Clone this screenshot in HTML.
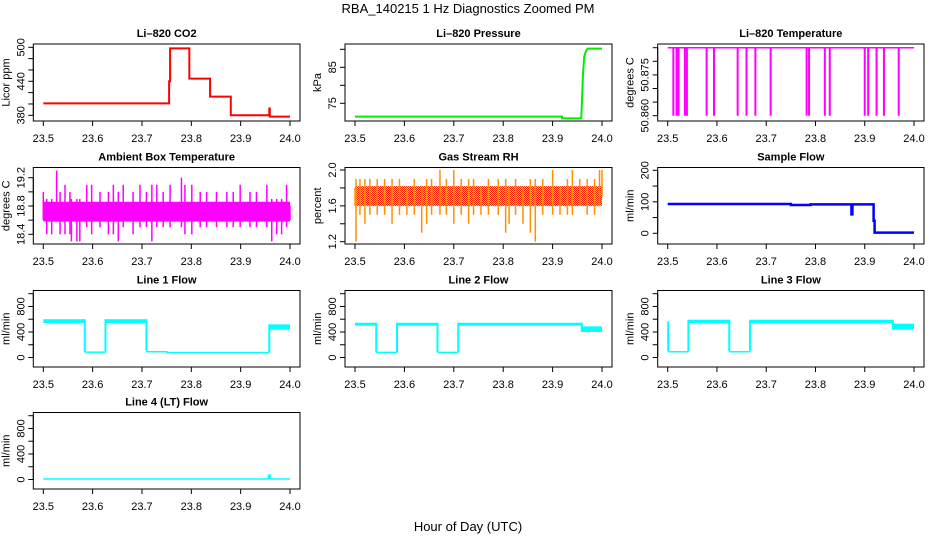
<!DOCTYPE html>
<html><head><meta charset="utf-8"><style>
html,body{margin:0;padding:0;background:#fff;}
svg{display:block;font-family:"Liberation Sans",Arial,sans-serif;}
</style></head><body>
<svg id="chart" width="936" height="540" viewBox="0 0 936 540" xmlns="http://www.w3.org/2000/svg">
<defs>
<pattern id="rhpat" width="2" height="2" patternUnits="userSpaceOnUse">
<rect width="2" height="2" fill="#ffd000"/><rect width="1" height="1" fill="#ff2000"/><rect x="1" y="1" width="1" height="1" fill="#ff2000"/>
</pattern>
</defs>
<rect width="936" height="540" fill="#fff"/>
<text x="468" y="13" font-size="13" text-anchor="middle">RBA_140215  1 Hz Diagnostics Zoomed PM</text>
<text x="468" y="531" font-size="13" text-anchor="middle">Hour of Day (UTC)</text>
</svg>
<script>
// ---- data ----
const xTicks=[23.5,23.6,23.7,23.8,23.9,24.0];
const xTickLabels=['23.5','23.6','23.7','23.8','23.9','24.0'];

const co2Times=[23.5,23.755,23.757,23.796,23.838,23.880,23.958,23.959];
const co2Vals=[401,440,498,444.7,413,380,392,377.6];

const presTimes=[23.5,23.919,23.919,23.958,23.9595,23.9615,23.964,23.9676,23.971,24.0];
const presVals=[71.3,71.3,70.8,70.8,76,83,88,89.5,90.2,90.2];

const tempBase=50.885;
const tempDropTo=50.860;
const tempDropTimes=[23.5115,23.518,23.522,23.535,23.539,23.579,23.594,23.642,23.660,23.678,23.709,23.782,23.787,23.819,23.829,23.900,23.907,23.924,23.939,23.969];

const ambCoreLo=18.58, ambCoreHi=18.86;
const ambTimes=[23.500,23.507,23.517,23.527,23.534,23.544,23.554,23.557,23.568,23.574,23.588,23.598,23.615,23.632,23.642,23.652,23.662,23.682,23.696,23.709,23.720,23.730,23.743,23.757,23.780,23.787,23.801,23.818,23.831,23.851,23.872,23.885,23.899,23.919,23.932,23.953,23.963,23.973,23.983,23.993,24.000];
const ambLo=[18.6,18.4,18.4,18.6,18.4,18.4,18.4,18.3,18.3,18.3,18.5,18.4,18.5,18.4,18.4,18.3,18.5,18.4,18.5,18.5,18.3,18.5,18.5,18.5,18.5,18.4,18.4,18.5,18.5,18.5,18.5,18.5,18.5,18.5,18.5,18.5,18.3,18.4,18.4,18.5,18.6];
const ambHi=[19.0,18.9,18.9,19.3,19.0,19.1,19.0,18.9,18.9,18.9,19.1,19.1,19.0,19.0,19.1,19.0,19.1,19.0,19.1,19.0,19.1,19.1,19.0,19.1,19.2,19.1,19.1,19.0,19.0,19.0,19.0,19.0,19.1,19.0,19.0,19.1,18.9,18.9,18.9,19.1,18.8];

const rhCoreLo=1.6, rhCoreHi=1.82;
const rhTimes=[23.500,23.502,23.510,23.520,23.530,23.545,23.560,23.575,23.590,23.605,23.620,23.635,23.645,23.655,23.672,23.685,23.700,23.715,23.730,23.740,23.755,23.770,23.790,23.805,23.812,23.825,23.840,23.855,23.865,23.880,23.900,23.915,23.930,23.940,23.955,23.970,23.985,23.995,24.000];
const rhLo=[1.6,1.2,1.5,1.4,1.5,1.5,1.5,1.4,1.5,1.5,1.5,1.3,1.4,1.5,1.5,1.5,1.4,1.5,1.4,1.5,1.5,1.5,1.5,1.3,1.4,1.5,1.4,1.3,1.2,1.5,1.5,1.5,1.5,1.5,1.6,1.5,1.5,1.6,1.7];
const rhHi=[1.8,1.9,1.9,1.9,1.9,1.9,1.9,1.9,1.9,1.8,1.9,1.8,1.9,1.9,2.0,1.9,2.0,1.9,1.9,1.9,1.8,1.9,1.9,1.9,1.8,1.9,1.8,1.9,1.9,1.9,2.0,1.8,1.9,2.0,1.9,1.9,1.9,2.0,2.0];

const sfTimes=[23.5,23.75,23.79,23.873,23.875,23.918,23.92];
const sfVals=[93,90,92,60,92,40,2];

const l1Start=[23.5,23.584,23.626,23.709,23.75,23.958];
const l1End=[23.584,23.626,23.709,23.75,23.958,24.0];
const l1Lo=[540,88,540,95,78,436];
const l1Hi=[600,95,600,102,88,519];

const l2Start=[23.5,23.543,23.585,23.667,23.709,23.959];
const l2End=[23.543,23.585,23.667,23.709,23.959,24.0];
const l2Lo=[499,82,499,82,499,400];
const l2Hi=[545,92,545,92,545,488];

const l3Start=[23.5,23.501,23.542,23.625,23.667,23.957];
const l3End=[23.501,23.542,23.625,23.667,23.957,24.0];
const l3Lo=[99,95,540,95,540,436];
const l3Hi=[566,102,592,102,592,530];

const l4Start=[23.5,23.957,23.959];
const l4End=[23.957,23.959,24.0];
const l4Lo=[0,0,0];
const l4Hi=[20,80,20];

// ---- layout ----
const NS='http://www.w3.org/2000/svg';
const svg=document.getElementById('chart');
const colX=[[43.3,290],[355,602],[667.7,914]];
const rowY=[[44,121],[167.5,244],[290.5,367],[412.5,489]];

function mk(tag,attrs,parent){const e=document.createElementNS(NS,tag);for(const k in attrs)e.setAttribute(k,attrs[k]);(parent||svg).appendChild(e);return e;}

function panel(col,row,name,title,ylab,vA,oA,vB,oB,yticks,ylabels){
  const g=mk('g',{});
  
  
  const xa=colX[col][0],xb=colX[col][1];
  const x0=xa-10,x1=xb+10,y0=rowY[row][0],y1=rowY[row][1];
  const x=t=>xa+(t-23.5)/0.5*(xb-xa);
  const pA=y0+oA,pB=y0+oB;
  const y=v=>pA+(v-vA)/(vB-vA)*(pB-pA);
  const t=mk('text',{x:(x0+x1)/2,y:y0-7,'font-size':11,'font-weight':'bold','text-anchor':'middle'},g);
  t.textContent=title;
  
  
  const box=mk('rect',{x:x0,y:y0,width:x1-x0,height:y1-y0,fill:'none',stroke:'#000','stroke-width':1},g);
  
  
  const xg=mk('g',{},g);
  
  
  mk('line',{x1:x(xTicks[0]),x2:x(xTicks[xTicks.length-1]),y1:y1,y2:y1,stroke:'#000'},xg);
  xTicks.forEach((tv,i)=>{
    mk('line',{x1:x(tv),x2:x(tv),y1:y1,y2:y1+5,stroke:'#000'},xg);
    const l=mk('text',{x:x(tv),y:y1+21,'font-size':11,'text-anchor':'middle'},xg);
    l.textContent=xTickLabels[i];
    
    
  });
  const yg=mk('g',{},g);
  
  
  mk('line',{x1:x0,x2:x0,y1:y(yticks[0]),y2:y(yticks[yticks.length-1]),stroke:'#000'},yg);
  yticks.forEach((tv,i)=>{
    mk('line',{x1:x0-5,x2:x0,y1:y(tv),y2:y(tv),stroke:'#000'},yg);
    if(ylabels[i]){
      const l=mk('text',{x:0,y:0,'font-size':11,'text-anchor':'middle',transform:`translate(${x0-9},${y(tv)}) rotate(-90)`},yg);
      l.textContent=ylabels[i];
      
      
    }
  });
  const yl=mk('text',{x:0,y:0,'font-size':11,'text-anchor':'middle',transform:`translate(${x0-24},${(y0+y1)/2}) rotate(-90)`},g);
  yl.textContent=ylab;
  
  
  const dg=mk('g',{},g);
  
  
  return {x,y,g:dg};
}

function stepLine(p,times,vals,end,color,w){
  let d=`M${p.x(times[0])},${p.y(vals[0])}`;
  for(let i=0;i<times.length;i++){
    const tn=i+1<times.length?times[i+1]:end;
    d+=`H${p.x(tn)}`;
    if(i+1<times.length)d+=`V${p.y(vals[i+1])}`;
  }
  const e=mk('path',{d,fill:'none',stroke:color,'stroke-width':w},p.g);
  
  
}
function polyLine(p,times,vals,color,w){
  const pts=times.map((t,i)=>p.x(t)+','+p.y(vals[i])).join(' ');
  const e=mk('polyline',{points:pts,fill:'none',stroke:color,'stroke-width':w},p.g);
  
  
}
function spikes(p,times,lo,hi,color,w){
  times.forEach((t,i)=>{
    const e=mk('line',{x1:p.x(t),x2:p.x(t),y1:p.y(lo[i]),y2:p.y(hi[i]),stroke:color,'stroke-width':w},p.g);
    
    
  });
}
function band(p,t0,t1,lo,hi,fill){
  const ya=p.y(hi),yb=p.y(lo);
  const e=mk('rect',{x:p.x(t0),y:Math.min(ya,yb),width:p.x(t1)-p.x(t0),height:Math.max(1.5,Math.abs(yb-ya)),fill},p.g);
  
  
}
function segBands(p,st,en,lo,hi,color){
  st.forEach((s,i)=>{
    band(p,s,en[i],lo[i],hi[i],color);
    if(i>0){
      const a=Math.min(lo[i],lo[i-1]),b=Math.max(hi[i],hi[i-1]);
      const e=mk('line',{x1:p.x(s),x2:p.x(s),y1:p.y(a),y2:p.y(b),stroke:color,'stroke-width':2},p.g);
      
      
    }
  });
}

// CO2
const pCO2=panel(0,0,'co2','Li\u2013820 CO2','Licor ppm',500,3.3,380,71.3,[380,400,420,440,460,480,500],['380','','','440','','','500']);
stepLine(pCO2,co2Times,co2Vals,24.0,'#ff0000',2);
// Pressure
const pPr=panel(1,0,'pressure','Li\u2013820 Pressure','kPa',90,5.3,75,59.3,[75,80,85,90],['75','','85','']);
polyLine(pPr,presTimes,presVals,'#00ee00',2);
// Temperature
const pT=panel(2,0,'li820-temperature','Li\u2013820 Temperature','degrees C',50.885,3.7,50.860,71.7,[50.860,50.865,50.870,50.875,50.880,50.885],['50.860','','','50.875','','']);
polyLine(pT,[23.5,24.0],[tempBase,tempBase],'#ff00ff',1.5);
spikes(pT,tempDropTimes,tempDropTimes.map(()=>tempDropTo),tempDropTimes.map(()=>tempBase),'#ff00ff',2);
// Ambient
const pA=panel(0,1,'ambient-temp','Ambient Box Temperature','degrees C',19.2,10.2,18.4,66.8,[18.4,18.6,18.8,19.0,19.2],['18.4','','18.8','','19.2']);
band(pA,23.5,24.0,ambCoreLo,ambCoreHi,'#ff00ff');
spikes(pA,ambTimes,ambLo,ambHi,'#ff00ff',1.5);
// RH
const pRH=panel(1,1,'gas-stream-rh','Gas Stream RH','percent',2.0,2.5,1.2,74.2,[1.2,1.4,1.6,1.8,2.0],['1.2','','1.6','','2.0']);
band(pRH,23.5,24.0,rhCoreLo,rhCoreHi,'url(#rhpat)');
spikes(pRH,rhTimes,rhLo,rhHi,'#ff9000',1.5);
// Sample flow
const pSF=panel(2,1,'sample-flow','Sample Flow','ml/min',200,2.8,0,65.8,[0,50,100,150,200],['0','','100','','200']);
stepLine(pSF,sfTimes,sfVals,24.0,'#0000ff',2.5);
// Line flows
const flowTicks=[0,200,400,600,800,1000], flowLabels=['0','','400','','800',''];
const p1=panel(0,2,'line1-flow','Line 1 Flow','ml/min',1000,3.2,0,67,flowTicks,flowLabels);
segBands(p1,l1Start,l1End,l1Lo,l1Hi,'#00ffff');
const p2=panel(1,2,'line2-flow','Line 2 Flow','ml/min',1000,3.2,0,67,flowTicks,flowLabels);
segBands(p2,l2Start,l2End,l2Lo,l2Hi,'#00ffff');
const p3=panel(2,2,'line3-flow','Line 3 Flow','ml/min',1000,3.2,0,67,flowTicks,flowLabels);
segBands(p3,l3Start,l3End,l3Lo,l3Hi,'#00ffff');
const p4=panel(0,3,'line4-flow','Line 4 (LT) Flow','ml/min',1000,3.2,0,67,flowTicks,flowLabels);
segBands(p4,l4Start,l4End,l4Lo,l4Hi,'#00ffff');
</script>
</body></html>
